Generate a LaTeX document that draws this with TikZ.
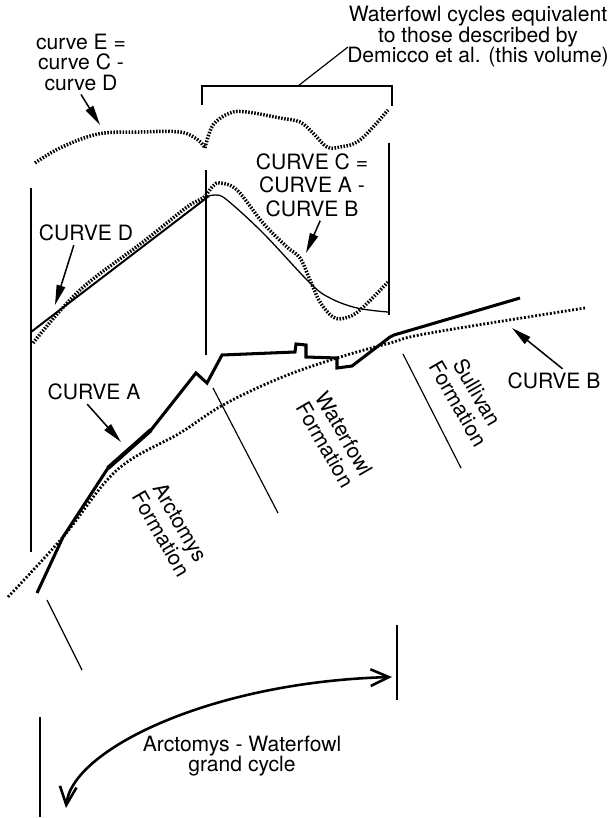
\documentclass[tikz,border=0pt]{standalone}
\usepackage{fontspec}
\setmainfont{TeX Gyre Heros}
\usetikzlibrary{arrows.meta}

\newcommand{\lblfont}{\fontsize{18}{17.5}\selectfont}

\tikzset{
  lbl/.style={font=\lblfont, align=center},
  fmlbl/.style={font=\fontsize{18}{19}\selectfont, align=center, rotate=-60},
  curveA/.style={line width=2.6pt, line join=miter},
  curveB/.style={line width=2.4pt, dash pattern=on 1.6pt off 1.6pt},
  curveC/.style={line width=3pt, dash pattern=on 1.3pt off 1.3pt},
  thinline/.style={line width=1pt},
  ptr/.style={-{Triangle[length=6mm,width=2.6mm]}, line width=1.3pt},
}

\begin{document}
\begin{tikzpicture}[x=0.03cm, y=-0.03cm]
\useasboundingbox (0,0) rectangle (614,818);

% labels
\node[lbl] (lblW) at (478,37) {Waterfowl cycles equivalent\\to those described by\\Demicco et al. (this volume)};
\node[lbl] (lblE) at (81,62) {curve E =\\curve C -\\curve D};
\node[lbl, font=\fontsize{18}{20}\selectfont] (lblC) at (312,185) {CURVE C =\\CURVE A -\\CURVE B};
\node[lbl] (lblD) at (86,233) {CURVE D};
\node[lbl] (lblA) at (94,392) {CURVE A};
\node[lbl] (lblB) at (554,381) {CURVE B};
\node[fmlbl] (fmA) at (171,528) {Arctomys\\Formation};
\node[fmlbl] (fmW) at (335,439) {Waterfowl\\Formation};
\node[fmlbl] (fmS) at (468,398) {Sullivan\\Formation};
\node[lbl] (lblG) at (242,756) {Arctomys - Waterfowl\\grand cycle};

% bracket over the Waterfowl cycles
\coordinate (brL) at (202,105);
\coordinate (brR) at (392,106);
\coordinate (brMid) at (298,86);
\coordinate (leadTop) at (348,47);
\draw[line width=2.4pt] (brL) -- (202,86) -- (392,86) -- (brR);
\draw[thinline] (leadTop) -- (brMid);

% vertical guide lines
\draw[thinline] (31,188) -- (31,552);
\draw[thinline] (206,170) -- (206,355);
\draw[thinline] (389,143) -- (389,315);

% curve E
\draw[curveC] plot[smooth, tension=0.6] coordinates {(35,163) (60,148) (98,134) (140,132) (180,132) (198,140) (205,148)};
\draw[curveC] plot[smooth, tension=0.6] coordinates {(205,148) (213,125) (230,113) (247,112) (280,118) (300,122) (313,133) (327,147) (340,147) (360,140) (388,110)};

% curve D
\draw[line width=1.7pt] (31,332) -- (209,196);
\draw[line width=1.1pt] plot[smooth, tension=0.6] coordinates {(209,196) (216,195) (227,200) (263,233) (310,283) (330,298) (357,308) (388,312)};

% curve C
\draw[curveC] plot[smooth, tension=0.6] coordinates {(33,343) (80,290) (143,242) (187,207) (203,198) (213,186) (220,183) (237,190) (263,223) (287,247) (300,258) (310,280) (320,302) (333,317) (345,318) (360,310) (388,282)};

% curve B
\draw[curveB] plot[smooth, tension=0.6] coordinates {(8,597) (63,537) (117,470) (180,433) (223,405) (280,378) (337,358) (390,343) (430,333) (585,308)};

% curve A
\draw[curveA] (37,593) -- (63,537) -- (108,468) -- (151,430) -- (196,373) -- (207,383) -- (222,355) -- (295,352) -- (296,344) -- (306,345) -- (306,357) -- (337,358) -- (337,368) -- (352,366) -- (390,337) -- (394,335) -- (520,298);
\draw[line width=3.6pt] (108,468) -- (151,430);

% formation boundaries
\draw[thinline] (47,600) -- (82,670);
\draw[thinline] (213,388) -- (278,513);
\draw[thinline] (403,354) -- (461,468);

% pointers
\coordinate (tipE) at (100,125);
\coordinate (tipD) at (55,305);
\coordinate (tipC) at (306,253);
\coordinate (tipA) at (121,442);
\coordinate (tipB) at (512,328);
\draw[ptr] (lblE.south) -- (tipE);
\draw[ptr] (lblD.225) -- (tipD);
\draw[ptr] (lblC.283) -- (tipC);
\draw[ptr] (lblA.241) -- (tipA);
\draw[ptr] (lblB.55) -- (tipB);

% grand cycle
\coordinate (cycR) at (392,677);
\coordinate (cycL) at (66,808);
\draw[thinline] (397,625) -- (397,700);
\draw[thinline] (40,717) -- (40,817);
\draw[line width=2.2pt, {Straight Barb[length=5.5mm,width=5mm]}-{Straight Barb[length=5.5mm,width=5mm]}] (cycL) .. controls (72,750) and (210,682) .. (cycR);
\end{tikzpicture}
\end{document}
